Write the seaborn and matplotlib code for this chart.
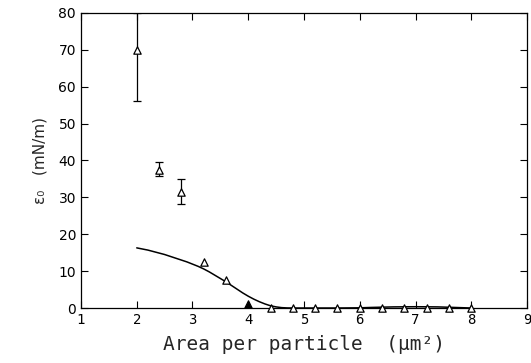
import numpy as np
import pandas as pd
import matplotlib
matplotlib.use('Agg')
import matplotlib.pyplot as plt
import seaborn as sns

# measured points (open triangles)
area_pts = [2.0, 2.4, 2.8, 3.2, 3.6, 4.4, 4.8, 5.2, 5.6, 6.0, 6.4, 6.8, 7.2, 7.6, 8.0]
eps_pts = [70.0, 37.5, 31.5, 12.5, 7.6, 0.0, 0.0, 0.0, 0.0, 0.0, 0.0, 0.0, 0.0, 0.0, 0.0]

# filled point
area_filled = [4.0]
eps_filled = [1.2]

# error bars
area_err = [2.0, 2.4, 2.8]
eps_err = [70.0, 37.5, 31.5]
err_lo = [56.0, 35.7, 28.2]
err_hi = [80.0, 39.6, 34.9]

# model curve
area_curve = [2.0, 2.1, 2.2, 2.3, 2.4, 2.5, 2.6, 2.7, 2.8, 2.9, 3.0, 3.1, 3.2, 3.3,
              3.4, 3.5, 3.6, 3.7, 3.8, 3.9, 4.0, 4.1, 4.2, 4.3, 4.4, 4.5, 4.6, 4.7,
              4.8, 5.2, 5.6, 6.0, 6.2, 6.6, 7.0, 7.4, 7.8, 8.0]
eps_curve = [16.3, 16.0, 15.7, 15.3, 14.9, 14.5, 14.0, 13.5, 13.0, 12.5, 11.9, 11.3, 10.6, 9.8,
             8.9, 8.0, 7.1, 6.1, 5.1, 4.1, 3.2, 2.4, 1.7, 1.1, 0.6, 0.3, 0.1, 0.02,
             0.0, 0.0, 0.0, 0.05, 0.15, 0.3, 0.35, 0.3, 0.1, 0.0]

sns.set_style('ticks')
plt.rcParams['font.family'] = ['DejaVu Sans']

fig = plt.figure(figsize=(5.31, 3.63), dpi=100)
ax = fig.add_axes([0.1525, 0.1515, 0.84, 0.813])

sns.lineplot(x=area_curve, y=eps_curve, ax=ax, color='black', linewidth=1.1)
ax.errorbar(area_err, eps_err,
            yerr=[np.array(eps_err) - np.array(err_lo), np.array(err_hi) - np.array(eps_err)],
            fmt='none', ecolor='black', elinewidth=0.9, capsize=3, capthick=0.9)
sns.scatterplot(x=area_pts, y=eps_pts, ax=ax, marker='^', s=28, facecolor='white',
                edgecolor='black', linewidth=0.9, zorder=5, clip_on=False)
sns.scatterplot(x=area_filled, y=eps_filled, ax=ax, marker='^', s=28, color='black',
                edgecolor='black', linewidth=0.9, zorder=5)

ax.set_xlim(1, 9)
ax.set_ylim(0, 80)
ax.set_xticks(range(1, 10))
ax.set_yticks(range(0, 81, 10))
ax.tick_params(direction='in', length=5, width=0.8, top=True, right=True, colors='black')
for lab in ax.get_xticklabels():
    lab.set_fontfamily('DejaVu Sans Mono')
    lab.set_fontsize(10)
for lab in ax.get_yticklabels():
    lab.set_fontsize(10)
for sp in ax.spines.values():
    sp.set_linewidth(0.9)
    sp.set_color('black')

ax.set_xlabel('Area per particle  (μm²)', fontfamily='DejaVu Sans Mono', fontsize=14, labelpad=6)
ax.set_ylabel('ε₀   (mN/m)', fontsize=11, labelpad=8)

fig.savefig('out.png', dpi=100)
